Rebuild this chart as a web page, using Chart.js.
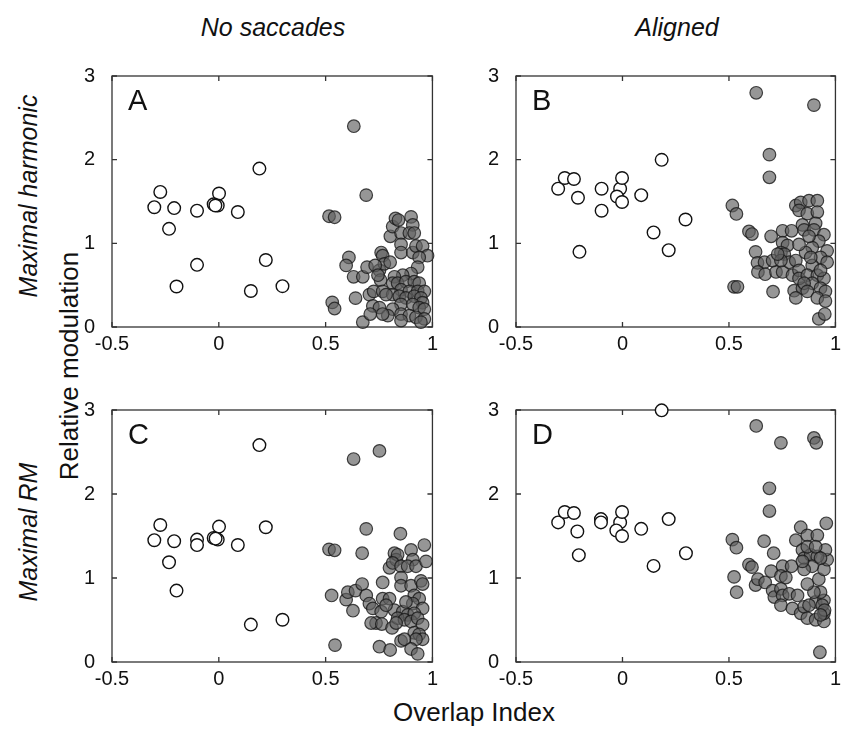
<!DOCTYPE html>
<html>
<head>
<meta charset="utf-8">
<script src="https://cdn.jsdelivr.net/npm/chart.js@4.4.0/dist/chart.umd.min.js"></script>
<style>
  body { margin: 0; background: #fff; }
  #wrap { position: relative; width: 841px; height: 730px; overflow: hidden; font-family: "Liberation Sans", Arial, sans-serif; color: #111; }
  canvas { position: absolute; }
  .lbl { position: absolute; white-space: nowrap; line-height: 1; transform: translate(-50%, -50%); }
  .rot { transform: translate(-50%, -50%) rotate(-90deg); }
  .it { font-style: italic; font-size: 25px; }
  .ax { font-size: 26px; }
</style>
</head>
<body>
<div id="wrap">
  <div class="lbl it" style="left:273px; top:27px;">No saccades</div>
  <div class="lbl it" style="left:677px; top:27px;">Aligned</div>
  <div class="lbl it rot" style="left:28px; top:196px;">Maximal harmonic</div>
  <div class="lbl it rot" style="left:28px; top:532px;">Maximal RM</div>
  <div class="lbl ax rot" style="left:69px; top:366px;">Relative modulation</div>
  <div class="lbl ax" style="left:474px; top:712px;">Overlap Index</div>
  <canvas id="cA" width="381" height="306" style="left:62px; top:55px;"></canvas>
  <canvas id="cB" width="380" height="306" style="left:466px; top:55px;"></canvas>
  <canvas id="cC" width="381" height="307" style="left:62px; top:389px;"></canvas>
  <canvas id="cD" width="380" height="307" style="left:466px; top:389px;"></canvas>
</div>
<script>
// tick values shared by all panels
const xTicks = [-0.5, 0, 0.5, 1];
const yTicks = [0, 1, 2, 3];

// A: no saccades, maximal harmonic
const openA = [[-0.274,1.614],[-0.302,1.432],[-0.209,1.421],[-0.233,1.173],[-0.198,0.484],[-0.102,1.39],[-0.102,0.743],
  [0.001,1.595],[-0.024,1.467],[-0.005,1.452],[-0.016,1.452],[0.089,1.374],[0.19,1.893],[0.22,0.80],[0.15,0.43],[0.298,0.488]];
const fillA = [[0.632,2.40],[0.690,1.576],[0.516,1.324],[0.542,1.312],[0.531,0.294],[0.542,0.221],[0.674,0.058],[0.640,0.345],
  [0.609,0.832],[0.596,0.736],[0.631,0.600],[0.674,0.600],[0.694,0.716],[0.705,0.387],[0.725,0.426],[0.760,0.890],[0.767,0.852],
  [0.752,0.677],[0.775,0.755],[0.802,0.774],[0.757,0.561],[0.767,0.426],[0.721,0.252],[0.752,0.232],[0.709,0.155],[0.803,1.084],
  [0.814,1.200],[0.827,1.297],[0.841,1.278],[0.900,1.316],[0.908,1.220],[0.853,1.123],[0.892,1.123],[0.915,1.123],[0.853,0.987],
  [0.853,0.890],[0.908,0.890],[0.923,0.968],[0.954,0.968],[0.977,0.852],[0.938,0.832],[0.931,0.716],[0.900,0.639],[0.861,0.619],
  [0.822,0.600],[0.814,0.523],[0.837,0.523],[0.876,0.542],[0.915,0.542],[0.938,0.523],[0.853,0.445],[0.892,0.426],[0.931,0.426],
  [0.962,0.426],[0.814,0.387],[0.845,0.368],[0.876,0.348],[0.915,0.368],[0.946,0.348],[0.954,0.290],[0.853,0.271],[0.908,0.271],
  [0.938,0.232],[0.962,0.213],[0.814,0.213],[0.791,0.136],[0.853,0.155],[0.892,0.136],[0.923,0.116],[0.962,0.097],[0.853,0.077],
  [0.946,0.058],[0.767,0.155],[0.783,0.387],[0.732,0.736],[0.745,0.619]];

// B: aligned, maximal harmonic
const openB = [[-0.302,1.653],[-0.271,1.781],[-0.228,1.769],[-0.209,1.545],[-0.202,0.898],[-0.098,1.653],[-0.098,1.390],
  [-0.011,1.653],[-0.002,1.781],[-0.026,1.560],[-0.002,1.494],[0.088,1.576],[0.184,1.998],[0.146,1.130],[0.217,0.918],[0.296,1.285]];
const fillB = [[0.628,2.799],[0.899,2.652],[0.690,2.060],[0.690,1.789],[0.516,1.452],[0.535,1.351],[0.594,1.142],[0.608,1.111],
  [0.524,0.480],[0.540,0.480],[0.625,0.898],[0.634,0.767],[0.667,0.774],[0.636,0.658],[0.670,0.631],[0.707,0.422],[0.698,1.084],
  [0.721,0.658],[0.705,0.794],[0.752,1.150],[0.794,1.150],[0.752,1.007],[0.775,0.976],[0.744,0.890],[0.760,0.871],[0.752,0.658],
  [0.783,0.774],[0.814,0.794],[0.798,0.619],[0.829,0.677],[0.806,0.434],[0.845,0.465],[0.829,0.581],[0.814,1.452],[0.837,1.490],
  [0.829,1.394],[0.876,1.510],[0.915,1.510],[0.868,1.355],[0.915,1.374],[0.845,1.220],[0.853,1.161],[0.907,1.239],[0.899,1.161],
  [0.946,1.103],[0.922,1.026],[0.961,0.910],[0.891,0.949],[0.860,0.890],[0.930,0.832],[0.961,0.774],[0.891,0.736],[0.868,0.619],
  [0.915,0.619],[0.946,0.581],[0.891,0.523],[0.853,0.523],[0.868,0.426],[0.930,0.465],[0.953,0.426],[0.915,0.348],[0.953,0.310],
  [0.922,0.097],[0.950,0.155],[0.744,0.794],[0.729,0.871],[0.814,0.348],[0.930,0.677],[0.876,1.084],[0.829,0.987],[0.884,0.832]];

// C: no saccades, maximal RM
const openC = [[-0.274,1.631],[-0.302,1.450],[-0.209,1.438],[-0.233,1.187],[-0.198,0.850],[-0.102,1.457],[-0.102,1.392],
  [-0.024,1.477],[-0.005,1.457],[0.001,1.612],[0.089,1.392],[0.190,2.582],[0.220,1.604],[0.150,0.445],[0.298,0.503],[-0.015,1.469]];
const fillC = [[0.631,2.416],[0.752,2.513],[0.690,1.585],[0.516,1.341],[0.542,1.330],[0.671,1.295],[0.850,1.527],[0.962,1.392],
  [0.528,0.792],[0.544,0.201],[0.596,0.742],[0.604,0.831],[0.640,0.850],[0.628,0.611],[0.671,0.928],[0.690,0.792],[0.705,0.696],
  [0.721,0.638],[0.767,0.754],[0.767,0.947],[0.799,0.754],[0.760,0.599],[0.736,0.464],[0.713,0.464],[0.763,0.452],[0.811,0.406],
  [0.752,0.182],[0.802,0.143],[0.799,1.121],[0.822,1.295],[0.830,1.218],[0.837,1.276],[0.814,1.179],[0.853,1.140],[0.900,1.334],
  [0.908,1.218],[0.884,1.140],[0.923,1.140],[0.970,1.198],[0.853,1.005],[0.853,0.908],[0.900,0.908],[0.946,0.966],[0.954,0.928],
  [0.915,0.792],[0.938,0.754],[0.908,0.696],[0.954,0.638],[0.822,0.618],[0.861,0.599],[0.884,0.560],[0.915,0.580],[0.837,0.522],
  [0.869,0.503],[0.900,0.483],[0.931,0.522],[0.954,0.445],[0.830,0.464],[0.915,0.348],[0.938,0.329],[0.954,0.271],[0.923,0.271],
  [0.853,0.251],[0.869,0.271],[0.900,0.155],[0.931,0.097],[0.783,0.676],[0.876,0.715]];

// D: aligned, maximal RM
const openD = [[-0.302,1.662],[-0.271,1.786],[-0.228,1.774],[-0.212,1.554],[-0.205,1.272],[-0.101,1.701],[-0.101,1.662],
  [-0.011,1.662],[-0.002,1.786],[-0.029,1.566],[-0.002,1.500],[0.088,1.585],[0.184,2.996],[0.217,1.701],[0.146,1.144],[0.298,1.295]];
const fillD = [[0.628,2.810],[0.744,2.609],[0.899,2.667],[0.910,2.609],[0.690,2.068],[0.690,1.797],[0.957,1.651],[0.516,1.457],
  [0.535,1.361],[0.665,1.438],[0.710,1.295],[0.524,1.013],[0.536,0.831],[0.594,1.160],[0.608,1.129],[0.625,0.916],[0.636,0.986],
  [0.670,0.947],[0.698,1.082],[0.705,0.850],[0.713,0.773],[0.752,1.140],[0.794,1.140],[0.744,1.024],[0.767,1.005],[0.744,0.870],
  [0.752,0.792],[0.744,0.676],[0.783,0.812],[0.822,0.792],[0.798,0.638],[0.837,0.580],[0.853,0.657],[0.868,0.522],[0.907,0.503],
  [0.946,0.483],[0.946,0.580],[0.907,0.715],[0.946,0.734],[0.930,0.831],[0.899,0.831],[0.868,0.928],[0.922,0.986],[0.946,1.102],
  [0.961,1.218],[0.953,1.334],[0.837,1.604],[0.814,1.450],[0.868,1.508],[0.915,1.508],[0.845,1.334],[0.853,1.237],[0.884,1.276],
  [0.915,1.256],[0.868,1.372],[0.907,1.372],[0.891,1.140],[0.853,1.102],[0.930,1.237],[0.845,1.198],[0.938,0.676],[0.949,0.618],
  [0.927,0.116],[0.930,0.560],[0.876,0.676]];

// box with inward ticks on all sides plus the panel letter
const framePlugin = {
  id: 'frame',
  beforeDatasetsDraw(chart, args, opts) {
    const { ctx, chartArea: a, scales: { x, y } } = chart;
    ctx.save();
    ctx.strokeStyle = '#333';
    ctx.lineWidth = 1.3;
    ctx.strokeRect(a.left, a.top, a.right - a.left, a.bottom - a.top);
    ctx.beginPath();
    x.ticks.forEach(t => {
      const px = x.getPixelForValue(t.value);
      ctx.moveTo(px, a.bottom); ctx.lineTo(px, a.bottom - 5);
      ctx.moveTo(px, a.top); ctx.lineTo(px, a.top + 5);
    });
    y.ticks.forEach(t => {
      const py = y.getPixelForValue(t.value);
      ctx.moveTo(a.left, py); ctx.lineTo(a.left + 5, py);
      ctx.moveTo(a.right, py); ctx.lineTo(a.right - 5, py);
    });
    ctx.stroke();
    ctx.fillStyle = '#111';
    ctx.font = '29px "Liberation Sans", Arial, sans-serif';
    ctx.textBaseline = 'alphabetic';
    ctx.fillText(opts.letter, a.left + 16, a.top + 34);
    ctx.restore();
  }
};

function toPts(arr) {
  return arr.map(p => ({ x: p[0], y: p[1] }));
}

function makePanel(id, letter, openPts, fillPts, yWidth) {
  const ctx = document.getElementById(id).getContext('2d');
  return new Chart(ctx, {
    type: 'scatter',
    data: {
      datasets: [{
        data: toPts(fillPts),
        backgroundColor: 'rgba(95,95,95,0.66)',
        borderColor: 'rgba(25,25,25,0.8)',
        borderWidth: 1.2,
        pointRadius: 6.3,
        clip: false
      }, {
        data: toPts(openPts),
        backgroundColor: '#ffffff',
        borderColor: '#111111',
        borderWidth: 1.4,
        pointRadius: 6.3,
        clip: false
      }]
    },
    options: {
      responsive: false,
      animation: false,
      events: [],
      layout: { padding: { top: 14, right: 10, left: 0, bottom: 0 } },
      plugins: {
        legend: { display: false },
        tooltip: { enabled: false },
        frame: { letter: letter }
      },
      scales: {
        x: {
          type: 'linear',
          min: -0.5, max: 1,
          afterBuildTicks: s => { s.ticks = xTicks.map(v => ({ value: v })); },
          afterFit: s => { s.height = 34; },
          grid: { display: false, drawTicks: false },
          border: { display: false },
          ticks: {
            color: '#111',
            padding: 5,
            maxRotation: 0,
            font: { family: '"Liberation Sans", Arial, sans-serif', size: 20 },
            callback: v => String(v)
          }
        },
        y: {
          type: 'linear',
          min: 0, max: 3,
          afterBuildTicks: s => { s.ticks = yTicks.map(v => ({ value: v })); },
          afterFit: s => { s.width = yWidth; },
          grid: { display: false },
          border: { display: false },
          ticks: {
            color: '#111',
            padding: 9,
            font: { family: '"Liberation Sans", Arial, sans-serif', size: 20 },
            callback: v => String(v)
          }
        }
      }
    },
    plugins: [framePlugin]
  });
}

makePanel('cA', 'A', openA, fillA, 50);
makePanel('cB', 'B', openB, fillB, 50);
makePanel('cC', 'C', openC, fillC, 50);
makePanel('cD', 'D', openD, fillD, 50);
</script>
</body>
</html>
